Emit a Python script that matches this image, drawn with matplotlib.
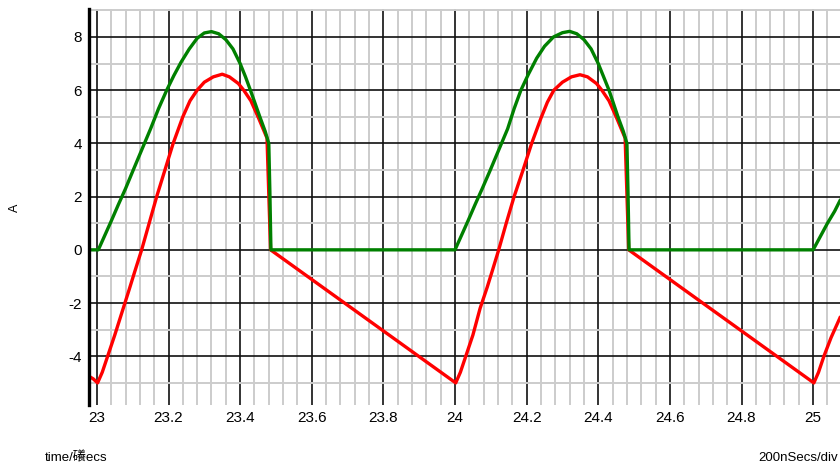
import matplotlib
matplotlib.use("Agg")
import matplotlib.pyplot as plt
from matplotlib.ticker import MultipleLocator, FuncFormatter

plt.rcParams['font.family'] = ['Liberation Sans', 'Noto Sans CJK SC', 'DejaVu Sans']
plt.rcParams['axes.unicode_minus'] = False

# time in microseconds, current in A
green_t = [22.978, 23.004, 23.02, 23.04, 23.06, 23.08, 23.10, 23.125, 23.15, 23.172,
           23.195, 23.215, 23.235, 23.258, 23.28, 23.30, 23.32, 23.34, 23.36, 23.38,
           23.40, 23.415, 23.43, 23.455, 23.47, 23.48, 23.482, 23.483, 23.486,
           24.0, 24.016, 24.036, 24.056, 24.076, 24.097, 24.122, 24.147, 24.165,
           24.184, 24.205, 24.228, 24.25, 24.275, 24.30, 24.32, 24.34, 24.36, 24.38,
           24.40, 24.415, 24.43, 24.455, 24.47, 24.48, 24.482, 24.483, 24.486,
           25.0, 25.02, 25.04, 25.06, 25.075]
green_v = [0, 0, 0.48, 1.08, 1.7, 2.3, 2.95, 3.75, 4.55, 5.3,
           6.0, 6.55, 7.05, 7.55, 7.95, 8.15, 8.2, 8.12, 7.9, 7.55,
           7.0, 6.5, 5.95, 5.0, 4.45, 4.0, 2.8, 2.2, 0,
           0, 0.48, 1.08, 1.7, 2.3, 2.95, 3.75, 4.55, 5.3,
           6.0, 6.6, 7.2, 7.65, 8.0, 8.16, 8.21, 8.12, 7.9, 7.55,
           7.0, 6.5, 6.0, 5.0, 4.45, 4.0, 2.8, 2.2, 0,
           0, 0.5, 1.0, 1.45, 1.85]

red_t = [22.978, 22.99, 23.002, 23.015, 23.03, 23.05, 23.07, 23.09, 23.105, 23.125,
         23.146, 23.167, 23.19, 23.213, 23.24, 23.26, 23.28, 23.30, 23.325, 23.35,
         23.37, 23.395, 23.41, 23.43, 23.45, 23.475, 23.485,
         24.002, 24.015, 24.03, 24.05, 24.07, 24.09, 24.105, 24.122,
         24.143, 24.165, 24.19, 24.214, 24.24, 24.258, 24.276, 24.30, 24.325, 24.349,
         24.37, 24.395, 24.41, 24.43, 24.45, 24.475, 24.485,
         25.002, 25.015, 25.03, 25.05, 25.075]
red_v = [-4.75, -4.85, -5.0, -4.6, -4.0, -3.2, -2.35, -1.5, -0.85, 0,
         1.0, 2.0, 3.0, 4.0, 5.0, 5.6, 6.0, 6.3, 6.5, 6.6,
         6.5, 6.25, 6.0, 5.6, 5.0, 4.2, 0,
         -5.0, -4.6, -4.0, -3.2, -2.2, -1.4, -0.75, 0,
         1.0, 2.0, 3.0, 4.0, 4.95, 5.55, 6.0, 6.3, 6.5, 6.58,
         6.5, 6.25, 6.0, 5.6, 5.0, 4.2, 0,
         -5.0, -4.6, -4.0, -3.3, -2.55]

unit_label = 'A'
xlabel_left = 'time/' + b'\xb5S'.decode('gbk') + 'ecs'
xlabel_right = '200nSecs/div'

fig = plt.figure(figsize=(8.4, 4.7), dpi=100)
ax = fig.add_axes([89 / 840, 1 - 405 / 470, 1 - 89 / 840, (405 - 9) / 470])

ax.plot(red_t, red_v, color='#ff0000', lw=2.4, solid_joinstyle='round')
ax.plot(green_t, green_v, color='#008000', lw=2.4, solid_joinstyle='round')

ax.set_xlim(22.978, 25.075)
ax.set_ylim(-5.83, 9.05)

ax.xaxis.set_major_locator(MultipleLocator(0.2))
ax.xaxis.set_minor_locator(MultipleLocator(0.04))
ax.yaxis.set_major_locator(MultipleLocator(2))
ax.yaxis.set_minor_locator(MultipleLocator(1))
ax.xaxis.set_major_formatter(FuncFormatter(lambda v, p: '%g' % round(v, 1)))

ax.set_axisbelow(True)
ax.grid(which='minor', color='#cccccc', lw=1.4)
ax.grid(which='major', color='#111111', lw=1.2)

for s in ['top', 'right', 'bottom']:
    ax.spines[s].set_visible(False)
ax.spines['left'].set_linewidth(2.4)
ax.spines['left'].set_color('black')

ax.tick_params(which='both', length=0)
ax.tick_params(axis='x', labelsize=11, pad=4)
ax.tick_params(axis='y', labelsize=11, pad=5)

fig.text(15 / 840, 1 - 208 / 470, unit_label, rotation=90, fontsize=9,
         ha='center', va='center')
fig.text(45 / 840, 1 - 458 / 470, xlabel_left, fontsize=9.5, ha='left', va='center')
fig.text(838 / 840, 1 - 458 / 470, xlabel_right, fontsize=9.5, ha='right', va='center')

fig.savefig('out.png', dpi=100)
